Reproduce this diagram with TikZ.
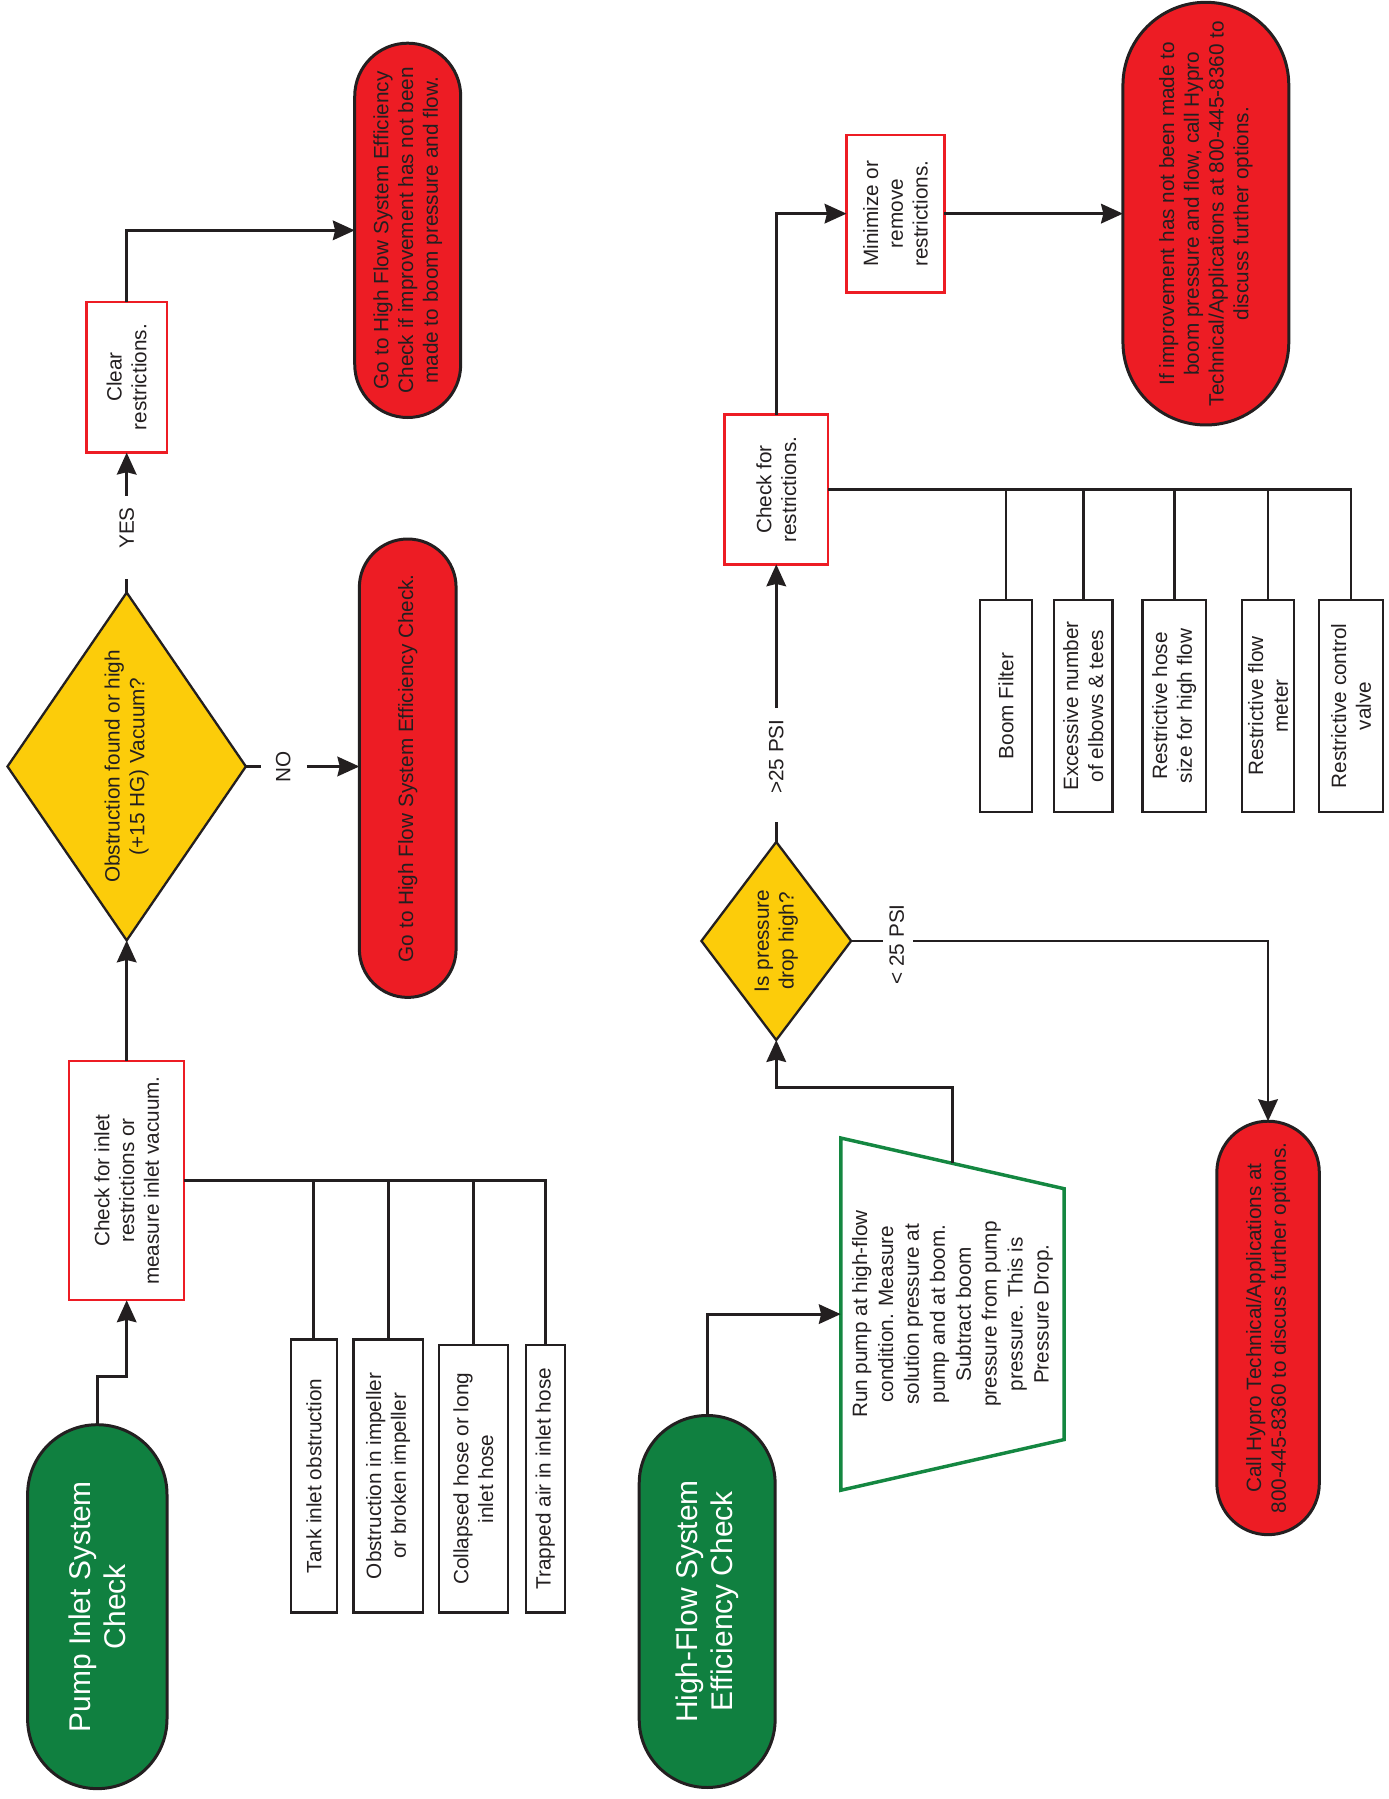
\documentclass[tikz,border=0pt]{standalone}
\usepackage{fontspec}
\setmainfont{Liberation Sans}
\usetikzlibrary{shapes.geometric,arrows.meta}
\definecolor{linecol}{RGB}{35,31,32}
\definecolor{capred}{RGB}{237,28,36}
\definecolor{capgreen}{RGB}{16,128,64}
\definecolor{askyellow}{RGB}{252,204,10}
\definecolor{trapgreen}{RGB}{20,135,65}

\begin{document}
\begin{tikzpicture}[x=1pt, y=-1pt, color=linecol, line width=2.4pt,
  every node/.style={rotate=90, align=center, inner sep=0pt, outer sep=0pt, font=\fontsize{18}{21.5}\selectfont},
  startcap/.style={rectangle, draw=linecol, line width=2.6pt, fill=capgreen, text=white, font=\fontsize{26}{31}\selectfont},
  stopcap/.style={rectangle, draw=linecol, line width=2.6pt, fill=capred},
  stepbox/.style={rectangle, draw=capred, line width=2pt, fill=white},
  causebox/.style={rectangle, draw=linecol, line width=2pt, fill=white},
  ask/.style={diamond, draw=linecol, line width=2pt, fill=askyellow},
  measure/.style={trapezium, trapezium left angle=101.8, trapezium right angle=101.8, trapezium stretches=true, draw=trapgreen, line width=3pt, fill=white, font=\fontsize{18}{22.5}\selectfont},
  arr/.style={-{Stealth[length=19pt, width=17pt, inset=2pt]}}]
\useasboundingbox (0,0) rectangle (1206,1562);

\node[startcap, minimum width=316pt, minimum height=121pt, rounded corners=60.5pt] (pump) at (84.5,1395) {Pump Inlet System\\Check};
\node[stepbox, minimum width=208pt, minimum height=100pt] (chkin) at (110,1025) {Check for inlet\\restrictions or\\measure inlet vacuum.};
\node[ask, minimum width=302pt, minimum height=207pt, aspect=1.46] (dia1) at (110,665.5) {Obstruction found or high\\(+15 HG) Vacuum?};
\node (yes) at (110,458.5) {YES};
\node[stepbox, minimum width=131pt, minimum height=70pt] (clear) at (110,327.5) {Clear\\restrictions.};
\node[stopcap, minimum width=325pt, minimum height=92pt, rounded corners=46pt] (redA) at (354,200) {Go to High Flow System Efficiency\\Check if improvement has not been\\made to boom pressure and flow.};
\node (no) at (246,665.5) {NO};
\node[stopcap, minimum width=398pt, minimum height=84pt, rounded corners=42pt] (redB) at (354,667) {Go to High Flow System Efficiency Check.};

\node[causebox, minimum width=237pt, minimum height=40pt] (tank) at (272.5,1281.5) {Tank inlet obstruction};
\node[causebox, minimum width=237pt, minimum height=60pt] (impel) at (337,1281.5) {Obstruction in impeller\\or broken impeller};
\node[causebox, minimum width=232pt, minimum height=60pt] (collap) at (411,1284) {Collapsed hose or long\\inlet hose};
\node[causebox, minimum width=232pt, minimum height=34pt] (trapped) at (473.5,1284) {Trapped air in inlet hose};

\node[startcap, minimum width=323pt, minimum height=118pt, rounded corners=59pt] (hf) at (614,1390.5) {High-Flow System\\Efficiency Check};
\node[measure, minimum width=306pt, minimum height=194pt] (trap) at (827,1141) {Run pump at high-flow\\condition. Measure\\solution pressure at\\pump and at boom.\\Subtract boom\\pressure from pump\\pressure. This is\\Pressure Drop.};
\node[ask, minimum width=172pt, minimum height=130pt, aspect=1.32] (dia2) at (674,817) {Is pressure\\drop high?};
\node (gt) at (674,657) {>25 PSI};
\node (lt) at (778.6,820) {< 25 PSI};
\node[stopcap, minimum width=359pt, minimum height=89pt, rounded corners=44.5pt] (redC) at (1101,1153) {Call Hypro Technical/Applications at\\800-445-8360 to discuss further options.};
\node[stepbox, minimum width=130pt, minimum height=90pt] (chkr) at (674,425) {Check for\\restrictions.};
\node[stepbox, minimum width=137pt, minimum height=85pt] (mini) at (777.5,185.5) {Minimize or\\remove\\restrictions.};
\node[stopcap, minimum width=367pt, minimum height=144pt, rounded corners=72pt] (redD) at (1047,185.5) {If improvement has not been made to\\boom pressure and flow, call Hypro\\Technical/Applications at 800-445-8360 to\\discuss further options.};

\node[causebox, minimum width=184pt, minimum height=45pt] (boomf) at (873.5,613) {Boom Filter};
\node[causebox, minimum width=184pt, minimum height=51pt] (elbows) at (940.5,613) {Excessive number\\of elbows \& tees};
\node[causebox, minimum width=184pt, minimum height=55pt] (hosesz) at (1019.5,613) {Restrictive hose\\size for high flow};
\node[causebox, minimum width=184pt, minimum height=45pt] (flowm) at (1101,613) {Restrictive flow\\meter};
\node[causebox, minimum width=184pt, minimum height=56pt] (ctrlv) at (1173,613) {Restrictive control\\valve};

\draw[arr] (pump.east) -- ++(0,-42) -| (chkin.west);
\draw[arr] (chkin.east) -- (dia1.west);
\draw[shorten >=26pt] (dia1.east) -- (yes.west);
\draw[arr, shorten <=10pt] (yes.east) -- (clear.west);
\draw[arr] (clear.east) |- (redA.north);
\draw[shorten >=13pt] (dia1.south) -- (no.north);
\draw[arr, shorten <=14pt] (no.south) -- (no.south -| redB.north);
\draw (chkin.south) -| (trapped.east);
\foreach \b in {tank,impel,collap}
  \draw (\b.east) -- (\b.east |- chkin.south);

\draw[arr] (hf.east) |- (trap.north);
\draw[arr] (trap.right side) -- ++(0,-66) -| (dia2.west);
\draw[shorten >=24pt] (dia2.east) -- (gt.west);
\draw[arr, shorten <=10pt] (gt.east) -- (chkr.west);
\draw[shorten >=6pt] (dia2.south) -- (dia2.south -| lt.north);
\draw[arr, shorten <=8pt] (lt.south |- dia2.south) -| (redC.east);
\draw[arr] (chkr.east) |- (mini.north);
\draw[arr] (mini.south) -- (redD.north);
\draw (chkr.south) -| (ctrlv.east);
\foreach \b in {boomf,elbows,hosesz,flowm}
  \draw (\b.east) -- (\b.east |- chkr.south);
\end{tikzpicture}
\end{document}
